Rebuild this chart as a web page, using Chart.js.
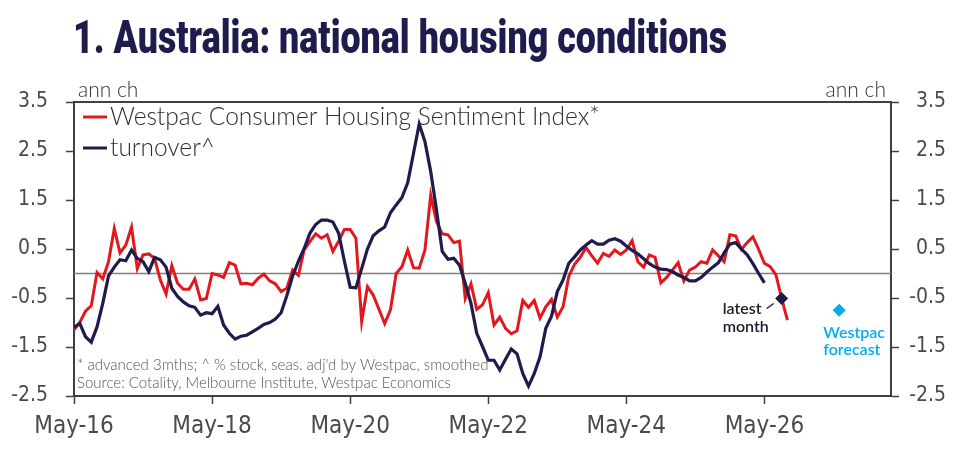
<!DOCTYPE html>
<html>
<head>
<meta charset="utf-8">
<script src="https://cdn.jsdelivr.net/npm/chart.js@4.4.1/dist/chart.umd.min.js"></script>
<style>
  html, body { margin: 0; padding: 0; background: #fff; }
  #wrap { width: 969px; height: 450px; position: relative; }
</style>
</head>
<body>
<div id="wrap"><canvas id="chart" width="969" height="450"></canvas></div>
<script>
const titleText = '1. Australia: national housing conditions';
const unitLabel = 'ann ch';
const seriesNames = ['Westpac Consumer Housing Sentiment Index*', 'turnover^'];
const notes = [
    "* advanced 3mths; ^ % stock, seas. adj'd by Westpac, smoothed",
    'Source: Cotality, Melbourne Institute, Westpac Economics'
];

// monthly values, first one is May-16
const sentiment = [
    -1.15, -1.00, -0.77, -0.66, 0.02, -0.11, 0.24, 0.92, 0.42, 0.58,
    0.95, 0.10, 0.38, 0.40, 0.31, -0.13, -0.42, 0.16, -0.20, -0.32,
    -0.32, -0.11, -0.54, -0.51, 0.00, -0.03, -0.08, 0.22, 0.17, -0.21,
    -0.20, -0.23, -0.10, -0.01, -0.15, -0.21, -0.37, -0.30, 0.07, -0.04,
    0.48, 0.65, 0.81, 0.72, 0.79, 0.45, 0.66, 0.90, 0.90, 0.72,
    -0.98, -0.27, -0.44, -0.73, -1.02, -0.74, 0.00, 0.14, 0.48, 0.12,
    0.11, 0.48, 1.60, 1.06, 0.81, 0.79, 0.63, 0.66, -0.51, -0.21,
    -0.73, -0.64, -0.39, -1.05, -0.89, -1.12, -1.23, -1.17, -0.55, -0.69,
    -0.55, -0.91, -0.68, -0.53, -0.89, -0.68, -0.06, 0.19, 0.33, 0.53,
    0.36, 0.21, 0.41, 0.35, 0.48, 0.39, 0.48, 0.67, 0.24, 0.13,
    0.38, 0.33, -0.19, -0.08, 0.07, 0.22, -0.15, 0.07, 0.13, 0.24,
    0.21, 0.48, 0.36, 0.24, 0.79, 0.77, 0.49, 0.63, 0.75, 0.49,
    0.21, 0.14, -0.03, -0.51, -0.95
];
const turnover = [
    -1.10, -1.02, -1.29, -1.40, -1.09, -0.61, -0.05, 0.13, 0.28, 0.26,
    0.48, 0.31, 0.24, 0.04, 0.33, 0.28, 0.13, -0.30, -0.47, -0.58,
    -0.66, -0.69, -0.85, -0.80, -0.82, -0.67, -1.05, -1.22, -1.34, -1.28,
    -1.26, -1.19, -1.12, -1.04, -1.00, -0.93, -0.80, -0.45, -0.05, 0.25,
    0.51, 0.82, 1.00, 1.09, 1.09, 1.05, 0.82, 0.25, -0.28, -0.29,
    0.10, 0.50, 0.77, 0.87, 0.95, 1.24, 1.40, 1.55, 1.85, 2.45,
    3.05, 2.69, 2.08, 1.30, 0.45, 0.29, 0.31, 0.17, -0.20, -0.61,
    -1.22, -1.49, -1.77, -1.77, -1.97, -1.75, -1.54, -1.64, -2.04, -2.30,
    -2.04, -1.70, -1.12, -0.87, -0.37, -0.13, 0.21, 0.34, 0.48, 0.58,
    0.67, 0.60, 0.60, 0.68, 0.71, 0.66, 0.56, 0.47, 0.40, 0.30,
    0.20, 0.13, 0.09, 0.08, 0.04, -0.03, -0.08, -0.15, -0.15, -0.08,
    0.03, 0.13, 0.22, 0.42, 0.60, 0.63, 0.50, 0.38, 0.20, 0.00,
    -0.19
];

const xTickLabels = ['May-16', 'May-18', 'May-20', 'May-22', 'May-24', 'May-26'];
const monthsPerTick = 24;
const xMax = 142;
const yTicks = [-2.5, -1.5, -0.5, 0.5, 1.5, 2.5, 3.5];

const latestMonth = 123;
const forecastMonth = 133;
const forecastValue = -0.75;

const red = '#e2181f';
const navy = '#1e1b4d';
const cyan = '#00aeef';
const axisGrey = '#404040';
const textFont = 'Lato, "Open Sans", sans-serif';
const tickFont = '"Liberation Sans Narrow", "DejaVu Sans Condensed", sans-serif';

const toPoints = arr => arr.map((v, i) => ({ x: i, y: v }));

const overlay = {
    id: 'overlay',
    beforeDatasetsDraw(chart) {
        const { ctx, chartArea: a, scales: { y } } = chart;
        const y0 = y.getPixelForValue(0);
        ctx.save();
        ctx.strokeStyle = '#7f7f7f';
        ctx.lineWidth = 1.5;
        ctx.beginPath();
        ctx.moveTo(a.left, y0);
        ctx.lineTo(a.right, y0);
        ctx.stroke();
        ctx.restore();
    },
    afterDraw(chart) {
        const { ctx, chartArea: a, scales: { x, y } } = chart;
        ctx.save();

        // top of the frame
        ctx.strokeStyle = axisGrey;
        ctx.lineWidth = 2;
        ctx.beginPath();
        ctx.moveTo(a.left - 1, a.top);
        ctx.lineTo(a.right + 1, a.top);
        ctx.stroke();

        // title, squeezed to the width of the original
        ctx.save();
        ctx.font = '900 46px Roboto';
        ctx.fillStyle = navy;
        ctx.textBaseline = 'alphabetic';
        const tw = ctx.measureText(titleText).width;
        ctx.translate(73, 53);
        ctx.scale(654 / tw, 1);
        ctx.fillText(titleText, 0, 0);
        ctx.restore();

        // units
        ctx.font = '300 21px ' + textFont;
        ctx.fillStyle = '#333';
        ctx.textAlign = 'left';
        ctx.fillText(unitLabel, a.left + 4, a.top - 5);
        ctx.textAlign = 'right';
        ctx.fillText(unitLabel, a.right - 5, a.top - 5);

        // legend
        const legendColors = [red, navy];
        ctx.textAlign = 'left';
        ctx.font = '300 24.5px ' + textFont;
        seriesNames.forEach((name, i) => {
            const ly = a.top + 15 + i * 31;
            ctx.strokeStyle = legendColors[i];
            ctx.lineWidth = 3;
            ctx.beginPath();
            ctx.moveTo(a.left + 9, ly);
            ctx.lineTo(a.left + 33, ly);
            ctx.stroke();
            ctx.fillStyle = '#2e2e2e';
            ctx.fillText(name, a.left + 36, ly + 8);
        });

        // notes
        ctx.font = '300 15px ' + textFont;
        ctx.fillStyle = '#555';
        notes.forEach((n, i) => ctx.fillText(n, a.left + 3, 370 + i * 18));

        // latest month label
        const lx = x.getPixelForValue(latestMonth);
        const ly = y.getPixelForValue(sentiment[latestMonth]);
        ctx.strokeStyle = navy;
        ctx.lineWidth = 1.5;
        ctx.beginPath();
        ctx.moveTo(lx - 15, ly + 10);
        ctx.lineTo(lx - 8, ly + 5);
        ctx.stroke();
        ctx.font = '600 16px ' + textFont;
        ctx.fillStyle = '#1c1a2e';
        ctx.fillText('latest', lx - 59, ly + 16);
        ctx.fillText('month', lx - 59, ly + 34);

        // forecast label
        const fx = x.getPixelForValue(forecastMonth);
        const fy = y.getPixelForValue(forecastValue);
        ctx.fillStyle = cyan;
        ctx.fillText('Westpac', fx - 16, fy + 28);
        ctx.fillText('forecast', fx - 16, fy + 45);

        ctx.restore();
    }
};

new Chart(document.getElementById('chart'), {
    type: 'line',
    data: {
        datasets: [
            {
                label: 'latest month',
                data: [{ x: latestMonth, y: sentiment[latestMonth] }],
                showLine: false,
                pointStyle: 'rectRot',
                pointRadius: 6,
                backgroundColor: navy,
                borderColor: navy,
                order: 0
            },
            {
                label: 'Westpac forecast',
                data: [{ x: forecastMonth, y: forecastValue }],
                showLine: false,
                pointStyle: 'rectRot',
                pointRadius: 6,
                backgroundColor: cyan,
                borderColor: cyan,
                order: 0
            },
            {
                label: seriesNames[1],
                data: toPoints(turnover),
                borderColor: navy,
                borderWidth: 3.2,
                pointRadius: 0,
                tension: 0,
                order: 1
            },
            {
                label: seriesNames[0],
                data: toPoints(sentiment),
                borderColor: red,
                borderWidth: 3,
                pointRadius: 0,
                tension: 0,
                order: 2
            }
        ]
    },
    options: {
        responsive: false,
        animation: false,
        layout: { padding: { top: 102, right: 23, bottom: 0, left: 0 } },
        plugins: {
            legend: { display: false },
            tooltip: { enabled: false },
            title: { display: false }
        },
        scales: {
            x: {
                type: 'linear',
                min: 0,
                max: xMax,
                afterBuildTicks: scale => {
                    scale.ticks = xTickLabels.map((_, i) => ({ value: i * monthsPerTick }));
                },
                afterFit: scale => { scale.height = 54; },
                ticks: {
                    autoSkip: false,
                    maxRotation: 0,
                    padding: 8,
                    color: '#4a4a4a',
                    font: { family: tickFont, size: 24 },
                    callback: v => xTickLabels[v / monthsPerTick]
                },
                grid: { drawOnChartArea: false, tickLength: 8, tickColor: axisGrey, tickWidth: 1.5 },
                border: { display: true, color: axisGrey, width: 2 }
            },
            y: {
                position: 'left',
                min: yTicks[0],
                max: yTicks[yTicks.length - 1],
                afterBuildTicks: scale => { scale.ticks = yTicks.map(v => ({ value: v })); },
                afterFit: scale => { scale.width = 74; },
                ticks: {
                    padding: 18,
                    color: '#4a4a4a',
                    font: { family: tickFont, size: 21 },
                    callback: v => v.toFixed(1)
                },
                grid: { drawOnChartArea: false, tickLength: 8, tickColor: axisGrey, tickWidth: 1.5 },
                border: { display: true, color: axisGrey, width: 2 }
            },
            y2: {
                position: 'right',
                min: yTicks[0],
                max: yTicks[yTicks.length - 1],
                afterBuildTicks: scale => { scale.ticks = yTicks.map(v => ({ value: v })); },
                afterFit: scale => { scale.width = 55; },
                ticks: {
                    crossAlign: 'far',
                    color: '#4a4a4a',
                    font: { family: tickFont, size: 21 },
                    callback: v => v.toFixed(1)
                },
                grid: { drawOnChartArea: false, tickLength: 8, tickColor: axisGrey, tickWidth: 1.5 },
                border: { display: true, color: axisGrey, width: 2 }
            }
        }
    },
    plugins: [overlay]
});
</script>
</body>
</html>
